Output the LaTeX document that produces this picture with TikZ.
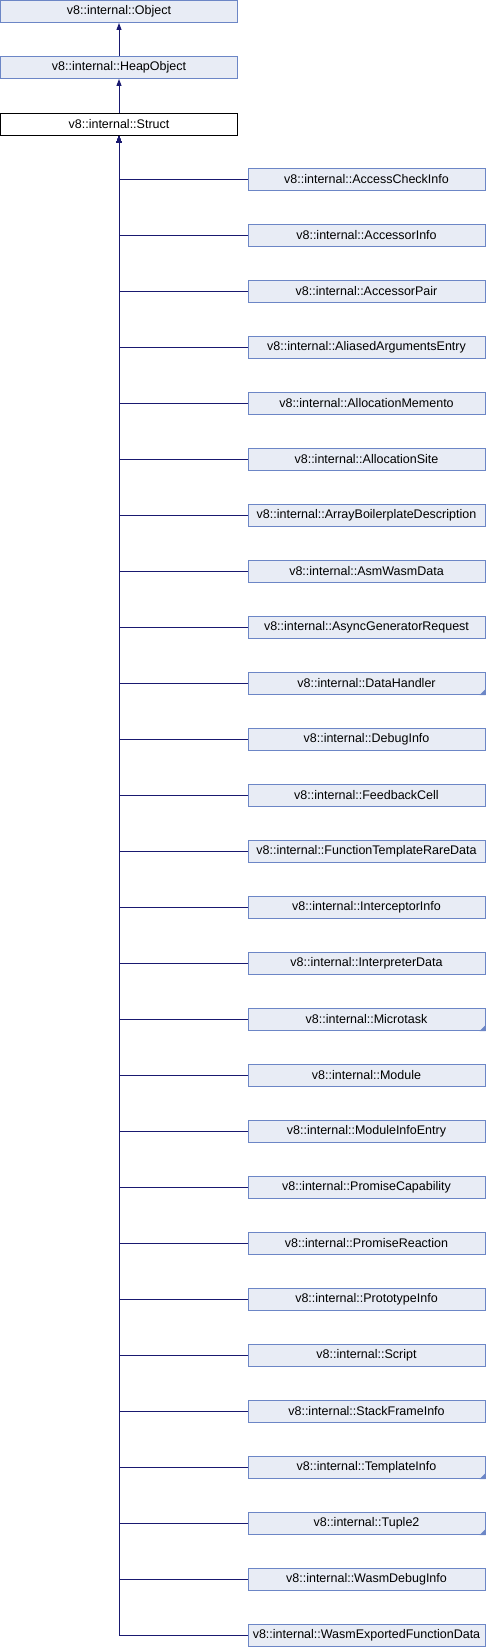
\documentclass[tikz,border=0pt]{standalone}
\usepackage{fontspec}
\setmainfont{Liberation Sans}
\usetikzlibrary{arrows.meta}
\definecolor{boxfill}{RGB}{232,236,245}
\definecolor{boxline}{RGB}{108,134,198}
\definecolor{edgecol}{RGB}{25,25,112}
\tikzset{
  cls/.style={draw=boxline, fill=boxfill, line width=1pt, minimum width=237pt, minimum height=22pt, inner sep=0pt, font=\fontsize{12.5}{15}\selectfont},
  curcls/.style={cls, draw=black, fill=white},
  inh/.style={draw=edgecol, line width=1pt, -{Triangle[width=5pt,length=7pt]}},
  corner/.style={fill=boxline}
}
\begin{document}
\begin{tikzpicture}[x=1pt,y=1pt]
\useasboundingbox (0,0) rectangle (486,-1648);
\node[cls] (obj) at (119,-11.5) {v8::internal::Object};
\node[cls] (heap) at (119,-67.5) {v8::internal::HeapObject};
\node[curcls] (struct) at (119,-124.5) {v8::internal::Struct};
\draw[inh] (heap.north) -- (obj.south);
\draw[inh] (struct.north) -- (heap.south);
\foreach \i/\t/\f in {
 1/AccessCheckInfo/0, 2/AccessorInfo/0, 3/AccessorPair/0, 4/AliasedArgumentsEntry/0,
 5/AllocationMemento/0, 6/AllocationSite/0, 7/ArrayBoilerplateDescription/0, 8/AsmWasmData/0,
 9/AsyncGeneratorRequest/0, 10/DataHandler/1, 11/DebugInfo/0, 12/FeedbackCell/0,
 13/FunctionTemplateRareData/0, 14/InterceptorInfo/0, 15/InterpreterData/0, 16/Microtask/1,
 17/Module/0, 18/ModuleInfoEntry/0, 19/PromiseCapability/0, 20/PromiseReaction/0,
 21/PrototypeInfo/0, 22/Script/0, 23/StackFrameInfo/0, 24/TemplateInfo/1,
 25/Tuple2/1, 26/WasmDebugInfo/0, 27/WasmExportedFunctionData/0} {
  \pgfmathsetmacro{\yy}{-(179.5+56*(\i-1))}
  \node[cls] (c\i) at (366.5,\yy) {v8::internal::\t};
  \ifnum\f=1
    \fill[corner] ([xshift=-6pt]c\i.south east) -- (c\i.south east) -- ([yshift=6pt]c\i.south east) -- cycle;
  \fi
  \draw[inh] (c\i.west) -| (struct.south);
}
\end{tikzpicture}
\end{document}
